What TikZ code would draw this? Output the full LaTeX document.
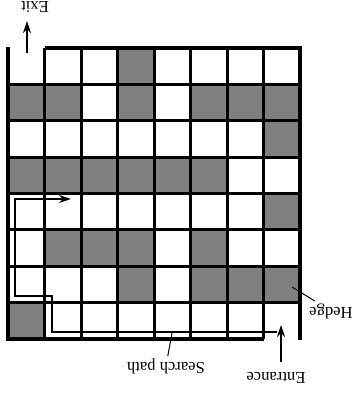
\documentclass[tikz,border=0pt]{standalone}
\usepackage{fontspec}
\setmainfont{Liberation Serif}
\usetikzlibrary{
    arrows.meta,
    positioning,
    calc
}
\tikzset{
    % --- Hedge cell (grey square) ---
    hedge/.style = {
        fill=black!50, draw=none
    },
    % --- Inner grid line ---
    grid line/.style = {
        line width=1.5pt
    },
    % --- Outer wall of the maze ---
    wall/.style = {
        line width=2.2pt
    },
    % --- Search path through the maze ---
    search/.style = {
        line width=1.1pt,
        -{Stealth[length=6pt, width=4pt]}
    },
    % --- Entrance / exit arrow ---
    gate arrow/.style = {
        line width=1.3pt,
        -{Stealth[length=6pt, width=4pt]}
    },
    % --- Label text (whole picture is upside down) ---
    tag/.style = {
        font=\fontsize{8.3}{10}\selectfont,
        rotate=180, inner sep=1pt
    },
    % --- Leader line from a label ---
    leader/.style = {
        line width=0.5pt
    }
}

\begin{document}
\begin{tikzpicture}[x=0.5pt, y=-0.5pt]

\useasboundingbox (0,0) rectangle (354,394);

% ---------------------------------------------------------
% Hedge cells (column/row, row 0 at the top)
% ---------------------------------------------------------
\foreach \c/\r in {3/0,
                   0/1, 1/1, 3/1, 5/1, 6/1, 7/1,
                   7/2,
                   0/3, 1/3, 2/3, 3/3, 4/3, 5/3,
                   7/4,
                   1/5, 2/5, 3/5, 5/5,
                   3/6, 5/6, 6/6, 7/6,
                   0/7}
    \fill[hedge] ({8+36.5*\c}, {48+36.4*\r}) rectangle ++(36.5, 36.4);

% ---------------------------------------------------------
% Grid
% ---------------------------------------------------------
\foreach \i in {1,...,7} {
    \draw[grid line] ({8+36.5*\i}, 48) -- ({8+36.5*\i}, 339.2);
    \draw[grid line] (8, {48+36.4*\i}) -- (300, {48+36.4*\i});
}

% Walls (gap at top left for exit, bottom right for entrance)
\draw[wall] (8, 47) -- (8, 339.2) -- (263.5, 339.2);
\draw[wall] (44.5, 48) -- (300, 48) -- (300, 340);

% ---------------------------------------------------------
% Exit and entrance
% ---------------------------------------------------------
\coordinate (exitTail) at (27, 53);
\coordinate (exitTip) at (27, 21);
\node[tag] (Exit) at (35, 7) {Exit};
\draw[gate arrow] (exitTail) -- (exitTip);

\coordinate (entTail) at (281, 362);
\coordinate (entTip) at (281, 325);
\node[tag] (Entrance) at (276, 378) {Entrance};
\draw[gate arrow] (entTail) -- (entTip);

% ---------------------------------------------------------
% Search path
% ---------------------------------------------------------
\coordinate (pathStart) at (277, 332);
\coordinate (pathEnd) at (71, 199);
\draw[search] (pathStart) -| (52, 296) -| (15, 199) -- (pathEnd);

\coordinate (pathPt) at (172, 333);
\node[tag] (Search) at (166, 366) {Search path};
\draw[leader] (Search) -- (pathPt);

% ---------------------------------------------------------
% Hedge label
% ---------------------------------------------------------
\coordinate (hedgePt) at (292, 287);
\node[tag] (Hedge) at (331, 311) {Hedge};
\draw[leader] (Hedge) -- (hedgePt);

\end{tikzpicture}
\end{document}
